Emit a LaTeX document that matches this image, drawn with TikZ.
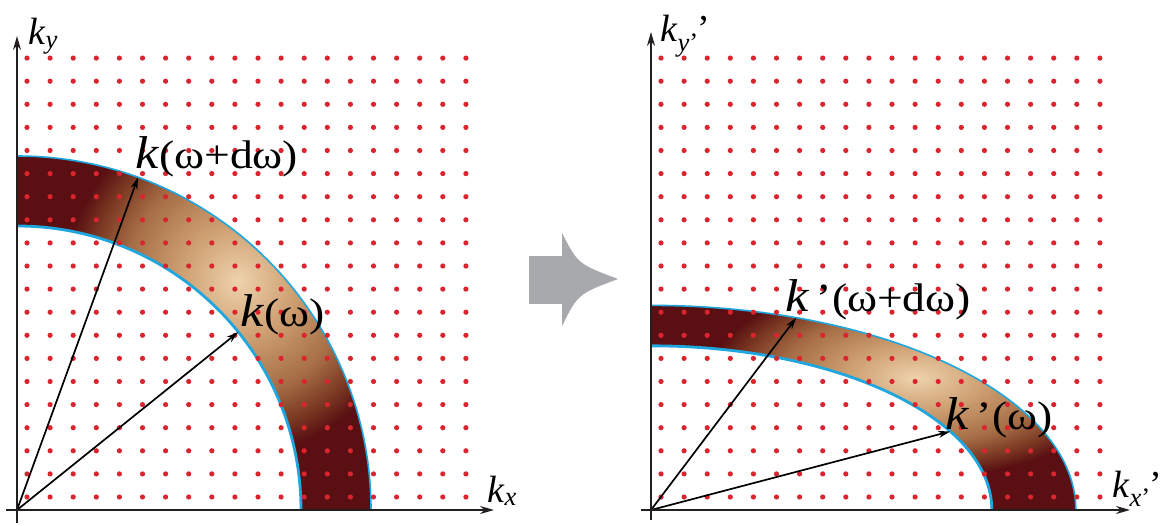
\documentclass[tikz,border=0pt]{standalone}
\usepackage{fontspec}
\setmainfont{Liberation Serif}
\newfontfamily\labelfont{Liberation Serif}
\usetikzlibrary{arrows.meta, calc}

\definecolor{dotred}{RGB}{218,36,46}
\definecolor{arcblue}{RGB}{32,166,222}
\definecolor{axisgray}{RGB}{35,31,32}
\definecolor{bandlight}{RGB}{238,210,172}
\definecolor{bandtan}{RGB}{206,160,114}
\definecolor{bandbrown}{RGB}{166,110,70}
\definecolor{bandrust}{RGB}{122,56,34}
\definecolor{banddark}{RGB}{90,16,18}
\definecolor{shiftgray}{RGB}{167,169,172}

\pgfdeclareradialshading{bandglow}{\pgfpoint{0bp}{0bp}}{color(0bp)=(bandlight); color(7bp)=(bandtan); color(14bp)=(bandbrown); color(18.5bp)=(bandrust); color(21.5bp)=(banddark); color(50bp)=(banddark)}

\tikzset{
  axis/.style={line width=1.7pt, draw=axisgray, -{Stealth[length=14pt,width=8pt]}},
  vec/.style={line width=1.7pt, draw=black, -{Stealth[length=12pt,width=7pt]}},
  latticedot/.style={fill=dotred},
  axislabel/.style={inner sep=0pt, anchor=base west, font=\labelfont\fontsize{38}{42}\selectfont},
  biglabel/.style={inner sep=0pt, anchor=base west, font=\labelfont\fontsize{40}{44}\selectfont, xscale=1.14},
}
\newcommand{\bigk}{{\fontsize{46}{46}\selectfont\textit{k}}}

\begin{document}
\begin{tikzpicture}[x=1pt, y=1pt]
\useasboundingbox (0,0) rectangle (1161,525);
\fill[white] (0,0) rectangle (1161,525);

%---k-space---
\begin{scope}[shift={(17,15)}]

\fill[banddark] (0,284) -- (0,354) arc[start angle=90, end angle=0, radius=354] -- (284,0) arc[start angle=0, end angle=90, radius=284] -- cycle;
\begin{scope}
\clip (0,284) -- (0,354) arc[start angle=90, end angle=0, radius=354] -- (284,0) arc[start angle=0, end angle=90, radius=284] -- cycle;
\shade[shading=bandglow] (46:318) circle (200);
\end{scope}
\draw[arcblue, line width=2.8pt] (0,284) arc[start angle=90, end angle=0, radius=284];
\draw[arcblue, line width=1.6pt] (0,354) arc[start angle=90, end angle=0, radius=354];

\foreach \i in {0,...,19}
  \foreach \j in {0,...,19}
    \fill[latticedot] (10+23.1*\i, 13+23.1*\j) circle (2.6);

\coordinate (LO) at (0,0);
\coordinate (Lkout) at (70:354);
\coordinate (Lkin) at (38.8:284);
\draw[vec] (LO) -- (Lkout);
\draw[vec] (LO) -- (Lkin);

\coordinate (Lx0) at (-11,0);
\coordinate (Lx1) at (477,0);
\coordinate (Ly0) at (0,-13);
\coordinate (Ly1) at (0,474);
\draw[axis] (Lx0) -- (Lx1);
\draw[axis] (Ly0) -- (Ly1);

\node[axislabel] (Lky) at (11,465) {\textit{k}\textsubscript{\textit{y}}};
\node[axislabel] (Lkx) at (470,8) {\textit{k}\textsubscript{\textit{x}}};
\node[biglabel] (Lkdw) at (118,341) {\bigk(ω+dω)};
\node[biglabel] (Lkw) at (223,183) {\bigk(ω)};
\end{scope}

%---shift arrow---
\fill[shiftgray] (529,221) rectangle (563,269);
\fill[shiftgray] (562,292) .. controls (578,261) .. (618,246) .. controls (578,231) .. (562,199) -- cycle;

%---k'-space---
\begin{scope}[shift={(651,15)}]

\begin{scope}[xscale=1.2, yscale=0.578]
\fill[banddark] (0,284) -- (0,354) arc[start angle=90, end angle=0, radius=354] -- (284,0) arc[start angle=0, end angle=90, radius=284] -- cycle;
\begin{scope}
\clip (0,284) -- (0,354) arc[start angle=90, end angle=0, radius=354] -- (284,0) arc[start angle=0, end angle=90, radius=284] -- cycle;
\shade[shading=bandglow] (46:318) circle (200);
\end{scope}
\draw[arcblue, line width=2.8pt] (0,284) arc[start angle=90, end angle=0, radius=284];
\draw[arcblue, line width=1.6pt] (0,354) arc[start angle=90, end angle=0, radius=354];
\coordinate (Rkout) at (70:354);
\coordinate (Rkin) at (28.6:284);
\end{scope}

\foreach \i in {0,...,19}
  \foreach \j in {0,...,19}
    \fill[latticedot] (10+23.1*\i, 13+23.1*\j) circle (2.6);

\coordinate (RO) at (0,0);
\draw[vec] (RO) -- (Rkout);
\draw[vec] (RO) -- (Rkin);

\coordinate (Rx0) at (-10,0);
\coordinate (Rx1) at (479,0);
\coordinate (Ry0) at (0,-10);
\coordinate (Ry1) at (0,478);
\draw[axis] (Rx0) -- (Rx1);
\draw[axis] (Ry0) -- (Ry1);

\node[axislabel] (Rky) at (9,468) {\textit{k}\textsubscript{\textit{y}’}\kern-1pt’};
\node[axislabel] (Rkx) at (461,13) {\textit{k}\textsubscript{\textit{x}’}\kern-1pt’};
\node[biglabel] (Rkdw) at (134,198) {\bigk\,’(ω+dω)};
\node[biglabel] (Rkw) at (294,81) {\bigk\,’(ω)};
\end{scope}

\end{tikzpicture}
\end{document}
